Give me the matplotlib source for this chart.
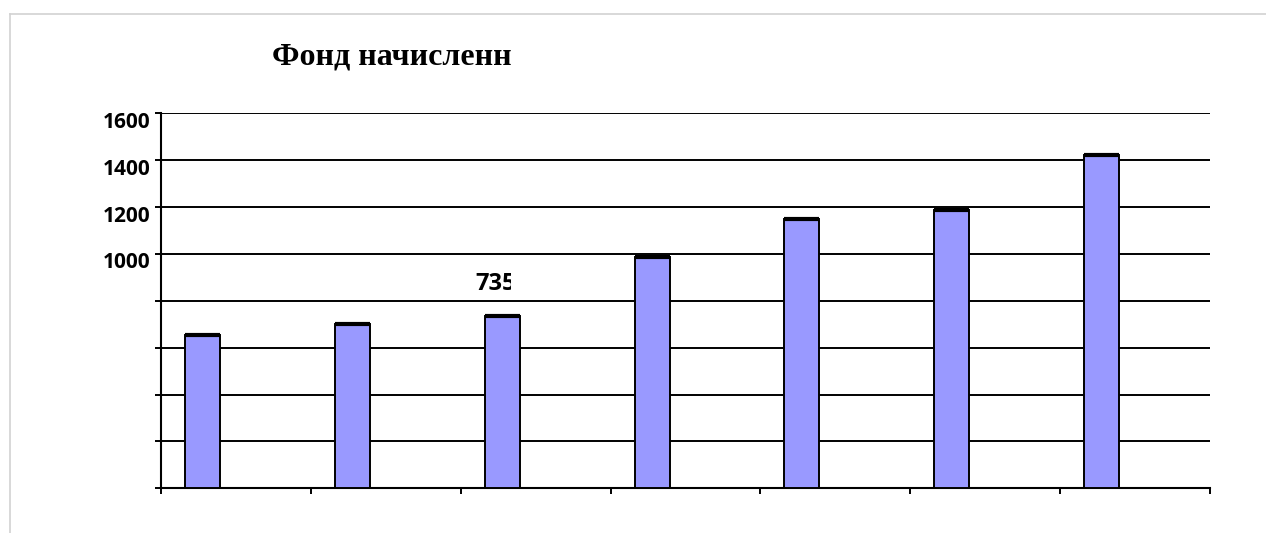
import matplotlib
matplotlib.use("Agg")
import matplotlib.pyplot as plt
from matplotlib.transforms import Bbox, ScaledTranslation
from matplotlib.lines import Line2D
from matplotlib import font_manager
import numpy as np

# ---- data ----
values = [654, 703, 735, 985, 1147, 1189, 1420]
labelled_index = 2
label_text = "735"
ytick_values = [0, 200, 400, 600, 800, 1000, 1200, 1400, 1600]
ytick_labels = ["", "", "", "", "", "1000", "1200", "1400", "1600"]
title_text = "Фонд начисленн"

# pick an installed sans family that has a real bold face
sans_bold = "DejaVu Sans"
for fam in ["Open Sans", "Lato", "Roboto", "Noto Sans"]:
    try:
        fp = font_manager.FontProperties(family=fam, weight="bold")
        path = font_manager.findfont(fp, fallback_to_default=False)
        if "bold" in path.lower():
            sans_bold = fam
            break
    except Exception:
        pass

W, H, DPI = 1266, 533, 100
fig = plt.figure(figsize=(W / DPI, H / DPI), dpi=DPI)
fig.patch.set_facecolor("white")

# light frame of the embedded chart
fig.add_artist(Line2D([10 / W, 1.0], [1 - 13.5 / H, 1 - 13.5 / H],
                      transform=fig.transFigure, color="#d2d2d2", lw=1.2))
fig.add_artist(Line2D([10 / W, 10 / W], [0, 1 - 13.5 / H],
                      transform=fig.transFigure, color="#d2d2d2", lw=1.2))

left, right = 161 / W, 1210 / W
bottom, top = 1 - 488.3 / H, 1 - 113.3 / H
ax = fig.add_axes([left, bottom, right - left, top - bottom])
ax.set_facecolor("none")

n = len(values)
offset = 0.277
width = 0.234
x = np.arange(n) + offset

ax.set_xlim(0, n)
ax.set_ylim(0, 1600)

for yv in ytick_values[1:]:
    ax.axhline(yv, color="black", lw=1.4, zorder=1)

ax.bar(x, values, width=width, color="#9999FF", edgecolor="black",
       linewidth=1.4, zorder=3)
ax.hlines(values, x - width / 2, x + width / 2, colors="black", lw=3.0, zorder=4)

for s in ["top", "right"]:
    ax.spines[s].set_visible(False)
for s in ["left", "bottom"]:
    ax.spines[s].set_color("black")
    ax.spines[s].set_linewidth(1.5)

ax.set_xticks(np.arange(n + 1))
ax.set_xticklabels([])
ax.set_yticks(ytick_values)
ax.set_yticklabels(ytick_labels, fontdict={"family": sans_bold, "weight": "bold", "size": 15})
ax.tick_params(axis="both", direction="out", length=4.5, width=1.4, color="black")
ax.tick_params(axis="y", pad=3.2)
for lab in ax.get_yticklabels():
    lab.set_transform(lab.get_transform() + ScaledTranslation(0, -6.5 / DPI, fig.dpi_scale_trans))

clip = Bbox.from_extents(0, 0, 511, H)

# data label (clipped like the source)
t = ax.annotate(label_text, xy=(x[labelled_index], values[labelled_index]),
                xytext=(-5, 23), textcoords="offset points",
                ha="center", va="center", fontsize=17, fontweight="bold",
                family=sans_bold, color="black", zorder=6)
t.set_clip_box(clip)
t.set_clip_on(True)

# title (clipped)
tt = fig.text(272 / W, 1 - 57.5 / H, title_text, ha="left", va="center",
              fontsize=23, fontweight="bold", family="Liberation Serif")
tt.set_clip_box(clip)
tt.set_clip_on(True)

fig.savefig("out.png", dpi=DPI)
